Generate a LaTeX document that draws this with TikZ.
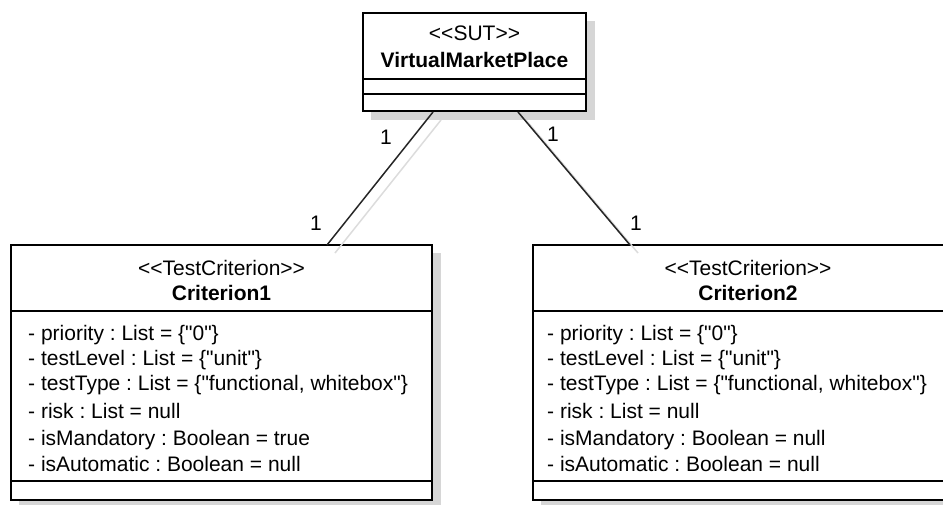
\documentclass[tikz,border=0pt]{standalone}
\usepackage{fontspec}
\setmainfont{Liberation Sans}[Ligatures=TeXOff]
\usetikzlibrary{calc}
\definecolor{shadowgray}{HTML}{D6D6D6}
\definecolor{lineshadow}{HTML}{DCDCDC}
\frenchspacing

\begin{document}
\begin{tikzpicture}[x=1pt,y=-1pt,
  classbox/.style={draw=black, line width=2.6pt, fill=white, rectangle,
    inner sep=0pt, outer sep=0pt, anchor=north west},
  boxshadow/.style={fill=shadowgray, draw=none},
  compsep/.style={line width=1.3pt},
  assoc/.style={line width=1.5pt, black!85},
  assocshadow/.style={line width=1.5pt, lineshadow},
  txt/.style={font=\fontsize{21}{24}\selectfont, inner sep=0pt},
  attr/.style={txt, anchor=base west},
  stereo/.style={txt, anchor=base},
  cname/.style={txt, anchor=base, font=\fontsize{21}{24}\selectfont\bfseries},
  mult/.style={txt, anchor=base}]

\useasboundingbox (0,0) rectangle (943,504);
\clip (0,0) rectangle (943,504);

% drop shadows of the class boxes
\fill[boxshadow] (371,21) rectangle (595,120);
\fill[boxshadow] (19,253) rectangle (441,509);
\fill[boxshadow] (541,253) rectangle (972,509);

% class boxes
\node[classbox, minimum width=223pt, minimum height=98pt] (sut) at (363,13) {};
\node[classbox, minimum width=421pt, minimum height=255pt] (crit1) at (11,245) {};
\node[classbox, minimum width=430pt, minimum height=255pt] (crit2) at (533,245) {};

% compartment separators
\draw[compsep] (sut.west |- 0,79) -- (sut.east |- 0,79);
\draw[compsep] (sut.west |- 0,94) -- (sut.east |- 0,94);
\draw[compsep] (crit1.west |- 0,311) -- (crit1.east |- 0,311);
\draw[compsep] (crit1.west |- 0,481) -- (crit1.east |- 0,481);
\draw[compsep] (crit2.west |- 0,311) -- (crit2.east |- 0,311);
\draw[compsep] (crit2.west |- 0,481) -- (crit2.east |- 0,481);

% association end points
\coordinate (sutL) at (433,112);
\coordinate (sutR) at (518,112);
\coordinate (c1top) at (327,245);
\coordinate (c2top) at (630,245);

% association shadows
\draw[assocshadow] ($(sutL)+(8,8)$) -- ($(c1top)+(8,8)$);
\draw[assocshadow] ($(sutR)+(8,8)$) -- ($(c2top)+(8,8)$);

% associations
\draw[assoc] (sutL) -- (c1top);
\draw[assoc] (sutR) -- (c2top);

% multiplicities
\node[mult] (m1a) at (386,144) {1};
\node[mult] (m1b) at (316,230) {1};
\node[mult] (m2a) at (553,141) {1};
\node[mult] (m2b) at (636,230) {1};

% VirtualMarketPlace
\node[stereo] (sutst) at (474.5,40) {<<SUT>>};
\node[cname] (sutnm) at (474.5,67) {VirtualMarketPlace};

% Criterion1
\node[stereo] (c1st) at (221.5,275) {<<TestCriterion>>};
\node[cname] (c1nm) at (221.5,300) {Criterion1};
\node[attr] (c1a1) at (28,340) {- priority : List = \{"0"\}};
\node[attr] (c1a2) at (28,365) {- testLevel : List = \{"unit"\}};
\node[attr] (c1a3) at (28,390) {- testType : List = \{"functional, whitebox"\}};
\node[attr] (c1a4) at (28,418) {- risk : List = null};
\node[attr] (c1a5) at (28,445) {- isMandatory : Boolean = true};
\node[attr] (c1a6) at (28,471) {- isAutomatic : Boolean = null};

% Criterion2
\node[stereo] (c2st) at (748,275) {<<TestCriterion>>};
\node[cname] (c2nm) at (748,300) {Criterion2};
\node[attr] (c2a1) at (547,340) {- priority : List = \{"0"\}};
\node[attr] (c2a2) at (547,365) {- testLevel : List = \{"unit"\}};
\node[attr] (c2a3) at (547,390) {- testType : List = \{"functional, whitebox"\}};
\node[attr] (c2a4) at (547,418) {- risk : List = null};
\node[attr] (c2a5) at (547,445) {- isMandatory : Boolean = null};
\node[attr] (c2a6) at (547,471) {- isAutomatic : Boolean = null};

\end{tikzpicture}
\end{document}
